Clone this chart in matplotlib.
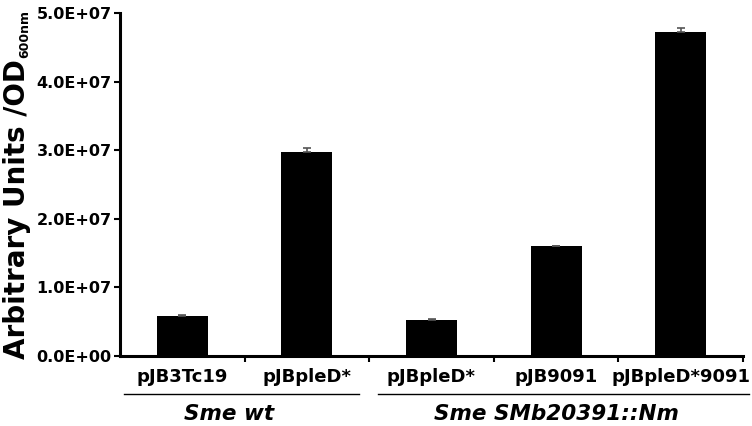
import matplotlib
matplotlib.use("Agg")
import matplotlib.pyplot as plt
import numpy as np

categories = ["pJB3Tc19", "pJBpleD*", "pJBpleD*", "pJB9091", "pJBpleD*9091"]
values = [5.9e6, 2.98e7, 5.3e6, 1.6e7, 4.72e7]
errors = [0.1e6, 0.5e6, 0.1e6, 0.05e6, 0.6e6]
groups = ["Sme wt", "Sme SMb20391::Nm"]
yticks = [0, 1e7, 2e7, 3e7, 4e7, 5e7]
ytick_labels = ["0.0E+00", "1.0E+07", "2.0E+07", "3.0E+07", "4.0E+07", "5.0E+07"]

FONT = ['DejaVu Sans']
plt.rcParams['font.family'] = FONT

W, H = 752, 426
fig = plt.figure(figsize=(W / 100, H / 100), dpi=100)
ax = fig.add_axes([120 / W, 70 / H, 623 / W, 343 / H])

x = np.arange(len(categories))
ax.bar(x, values, width=0.41, color='black', zorder=2)
ax.errorbar(x, values, yerr=[np.zeros(len(errors)), errors], fmt='none',
            ecolor='#555555', elinewidth=1.2, capsize=3, capthick=1.2, zorder=3)

ax.set_xlim(-0.5, 4.5)
ax.set_ylim(0, 5e7)
ax.set_yticks(yticks)
ax.set_yticklabels(ytick_labels, fontsize=11.5, fontweight='bold')
ax.set_xticks(x)
ax.set_xticklabels(categories, fontsize=13, fontweight='bold')
ax.tick_params(axis='x', which='major', length=0, pad=9)
ax.set_xticks(np.arange(0.5, 5, 1.0), minor=True)
ax.tick_params(axis='x', which='minor', length=4, width=1.5, direction='out')
ax.tick_params(axis='y', which='major', length=4, width=1.5, direction='out', pad=2)

for s in ['top', 'right']:
    ax.spines[s].set_visible(False)
ax.spines['left'].set_linewidth(2.2)
ax.spines['bottom'].set_linewidth(2.2)

# y label: main text plus a smaller subscript
main = fig.text(25 / W, (H - 359) / H, 'Arbitrary Units /OD', rotation=90,
                rotation_mode='anchor', ha='left', va='baseline',
                fontsize=20, fontweight='bold')
fig.canvas.draw()
bb = main.get_window_extent(fig.canvas.get_renderer())
fig.text(28 / W, (bb.y1 + 1) / H, '600nm', rotation=90, rotation_mode='anchor',
         ha='left', va='baseline', fontsize=9, fontweight='bold')

trans = ax.get_xaxis_transform()
line_y = -0.111
ax.plot([-0.468, 1.418], [line_y, line_y], color='black', lw=1, transform=trans, clip_on=False)
ax.plot([1.57, 4.55], [line_y, line_y], color='black', lw=1, transform=trans, clip_on=False)
ax.text(0.375, -0.14, groups[0], transform=trans, ha='center', va='top',
        fontsize=15.5, fontweight='bold', style='italic')
ax.text(3.0, -0.14, groups[1], transform=trans, ha='center', va='top',
        fontsize=15.5, fontweight='bold', style='italic')

fig.savefig('out.png', dpi=100)
